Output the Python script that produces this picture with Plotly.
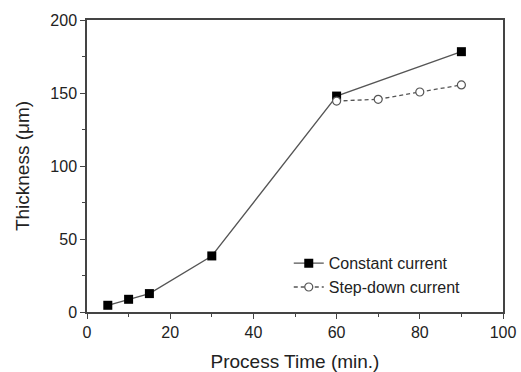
import plotly.graph_objects as go

time_constant = [5, 10, 15, 30, 60, 90]
thick_constant = [4.6, 8.7, 12.6, 38.4, 147.9, 178.3]
time_step = [60, 70, 80, 90]
thick_step = [144.5, 145.7, 150.7, 155.5]
x_ticks = [0, 20, 40, 60, 80, 100]
y_ticks = [0, 50, 100, 150, 200]

font = "Liberation Sans, Arial, sans-serif"

fig = go.Figure()
fig.add_trace(go.Scatter(
    x=time_constant, y=thick_constant, mode="lines+markers",
    name="Constant current",
    line=dict(color="#555555", width=1.3),
    marker=dict(symbol="square", size=9, color="black"),
))
fig.add_trace(go.Scatter(
    x=time_step, y=thick_step, mode="lines+markers",
    name="Step-down current",
    line=dict(color="#555555", width=1.3, dash="4px,3px"),
    marker=dict(symbol="circle", size=8, color="white",
                line=dict(color="#555555", width=1.2)),
))

axis_common = dict(
    showgrid=False, zeroline=False, showline=True, linecolor="#444444",
    linewidth=1.5, mirror=True, ticks="outside", ticklen=5, tickwidth=1.2,
    tickcolor="#444444", tickfont=dict(family=font, size=16, color="#222222"),
    automargin=False,
)

fig.update_xaxes(
    range=[0, 100], tickvals=x_ticks,
    minor=dict(dtick=10, ticks="outside", ticklen=3, tickcolor="#444444"),
    title=dict(text="Process Time (min.)", font=dict(family=font, size=19, color="#222222"),
               standoff=17),
    **axis_common,
)
fig.update_yaxes(
    range=[0, 200], tickvals=y_ticks,
    minor=dict(dtick=25, ticks="outside", ticklen=3, tickcolor="#444444"),
    title=dict(text="Thickness (\u03bcm)", font=dict(family=font, size=19, color="#222222"),
               standoff=16),
    **axis_common,
)

fig.update_layout(
    width=521, height=372,
    margin=dict(l=87, r=18, t=20, b=60),
    plot_bgcolor="white", paper_bgcolor="white",
    showlegend=True,
    legend=dict(x=0.485, y=0.225, xanchor="left", yanchor="top",
                font=dict(family=font, size=16, color="#222222"),
                bgcolor="rgba(0,0,0,0)", tracegroupgap=0, itemwidth=30),
)

fig.write_html("out.html", config={"displayModeBar": False},
               post_script="document.body.style.margin='0';document.body.style.padding='0';")
